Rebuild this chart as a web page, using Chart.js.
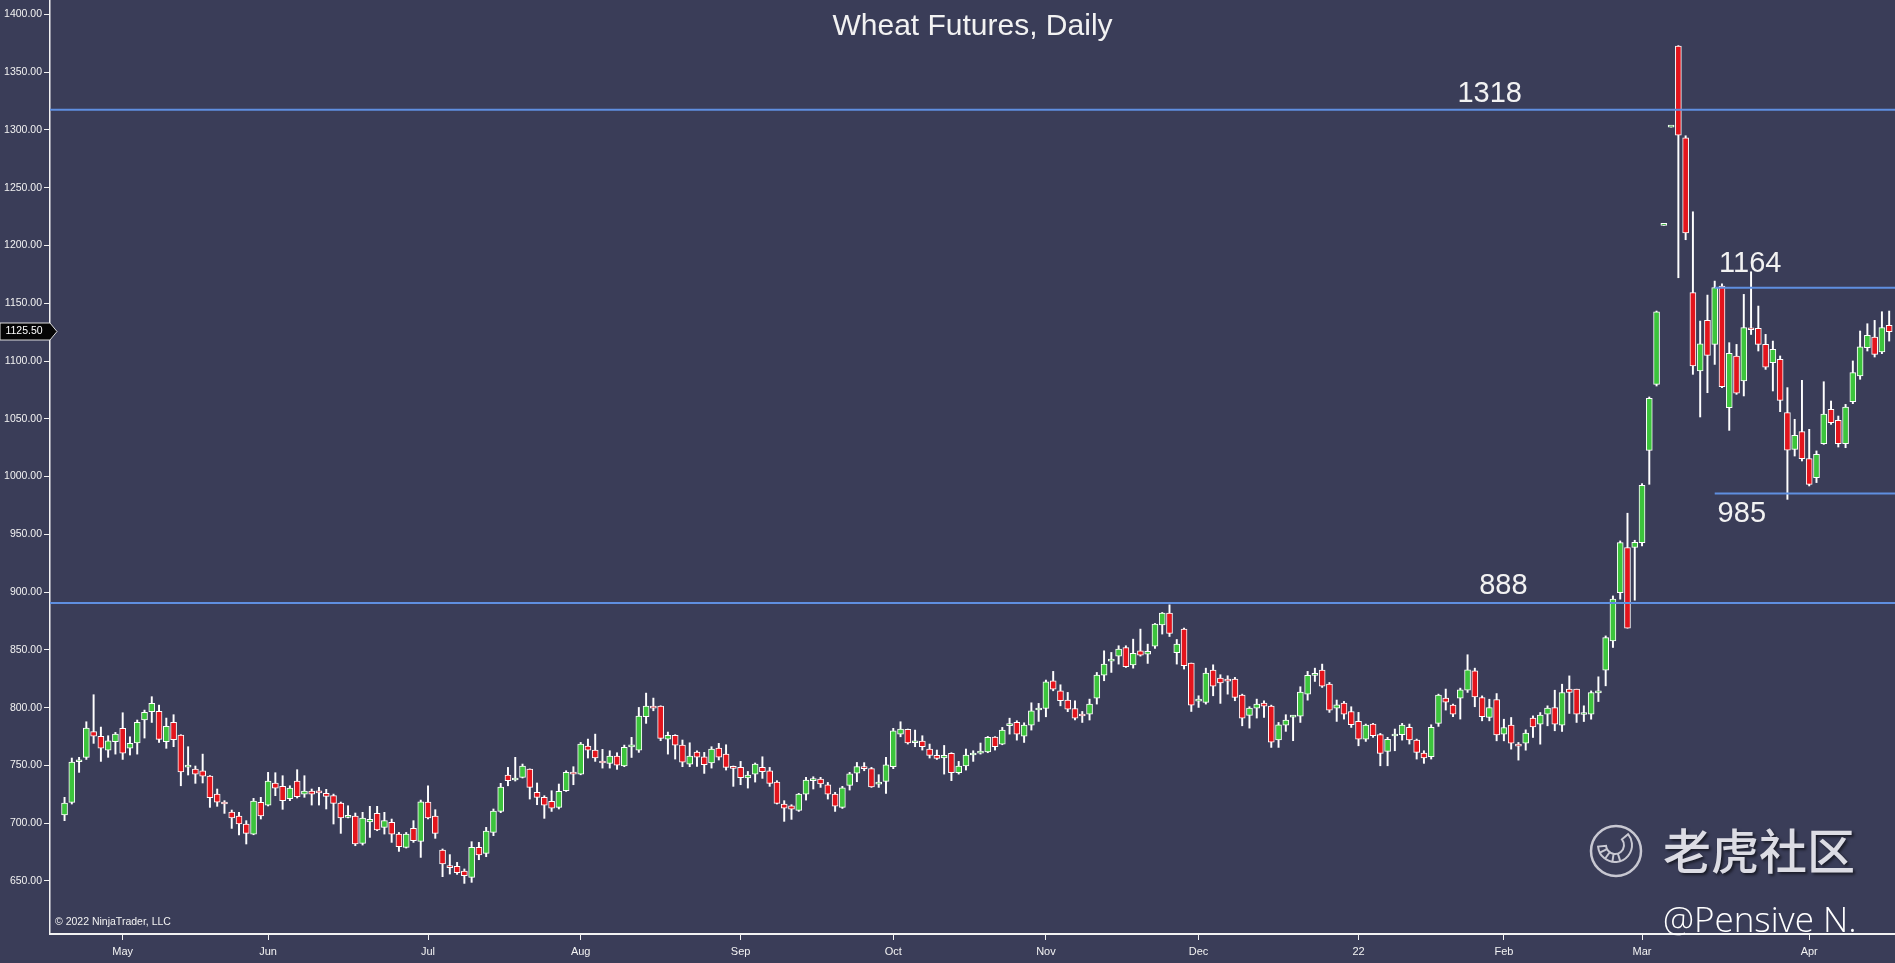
<!DOCTYPE html>
<html>
<head>
<meta charset="utf-8">
<title>Wheat Futures, Daily</title>
<script src="https://cdn.jsdelivr.net/npm/chart.js@4.4.0/dist/chart.umd.min.js"></script>
<style>
  html, body { margin: 0; padding: 0; background: #3a3d58; overflow: hidden; }
  #wrap { width: 1895px; height: 963px; }
</style>
</head>
<body>
<div id="wrap"><canvas id="chart" width="1895" height="963"></canvas></div>
<script>
// daily sessions, 21 Apr 2021 .. 18 Apr 2022, one entry per bar
const opens = [
  707.1, 718, 753.2, 757, 779.2, 775.1, 763.3, 770.5, 782.1, 765,
  769.4, 789.3, 796.5, 796.8, 770.5, 787.2, 776.3, 748.5, 746.9, 745.4,
  740.8, 725.2, 718.3, 709.7, 706.2, 699.3, 690.6, 718, 715.7, 734.8,
  731.9, 721.2, 736.5, 725.2, 727.8, 726.5, 725.8, 723.8, 717.5, 705,
  706.2, 682.6, 701, 708.5, 696.4, 700.7, 690.6, 679.1, 695.5, 684.3,
  718.3, 706.2, 676.8, 662, 662.7, 658.6, 653.1, 679.1, 673.9, 692.1,
  710.2, 741.7, 737.4, 739.7, 746.9, 726.7, 722.4, 718.9, 713.7, 728.1,
  743.7, 742.5, 766.8, 763.3, 753.5, 751.8, 758.1, 749.5, 766, 763.3,
  792.1, 801.1, 801.4, 772.8, 776, 767.6, 751.2, 761.6, 757.5, 752.1,
  765, 759.8, 747.7, 748.3, 739.1, 742.5, 748.3, 745.4, 735.6, 716.6,
  715.1, 711.1, 725.2, 736.8, 738.2, 733.3, 725.2, 713.7, 732.7, 743.4,
  748.9, 747.2, 733.8, 736.2, 748.9, 777.1, 781.2, 769.6, 771.1, 764.2,
  758.7, 756.4, 760.4, 743.7, 749.5, 759, 760.6, 761.6, 774.6, 768.5,
  784.4, 787.2, 775.4, 784.9, 798, 799.3, 823.3, 814.6, 806.5, 799.3,
  793.3, 794.4, 808.3, 828.2, 840.3, 844.6, 852.1, 837.1, 849.2, 846.4,
  853.3, 871.7, 881.8, 847.5, 868, 838.6, 805.6, 804.5, 832.5, 825.6,
  823.6, 824.7, 810.9, 793.3, 799.6, 804, 801.4, 772, 784.9, 791.8,
  792.7, 811.7, 827.9, 832.5, 820.4, 799.6, 804, 796.7, 788.1, 772.8,
  785.8, 776.6, 762.1, 775.5, 776.6, 782.9, 772, 760.7, 757.5, 786.4,
  808.3, 802.2, 808.3, 815.2, 831.9, 808.8, 791.5, 807, 777.1, 784.9,
  768.4, 769.3, 790.9, 785.7, 794.4, 800.1, 784.8, 816, 816, 794.1,
  794.4, 812.8, 832.4, 857.8, 899.6, 938.6, 938.6, 942.9, 1022.7, 1079.8,
  1217.4, 1302.5, 1372.6, 1293.3, 1159.2, 1091.4, 1135.2, 1114.5, 1164.9, 1059.7,
  1104.4, 1082.7, 1127.7, 1128.3, 1114.4, 1098.6, 1101.5, 1055.3, 1023.6, 1038.9,
  1015.6, 999.1, 1028.5, 1058.2, 1048.7, 1028.5, 1064.8, 1087.1, 1111.6, 1120.8,
  1107.8, 1130.9
];
const highs = [
  722.4, 756.4, 757, 787.8, 811.2, 783.2, 775.7, 778.6, 795.6, 774.8,
  789.3, 797.9, 809.5, 802.2, 791, 793.9, 776.6, 766.2, 749.5, 759.8,
  741.2, 729.6, 719.5, 711.4, 709.4, 702.2, 721.5, 722.4, 744, 743.7,
  741.1, 732.4, 746.3, 741.1, 729.6, 731, 729.3, 725.2, 718.3, 715.1,
  708.8, 709.4, 714.6, 714.6, 709.4, 703.6, 692, 692, 702.2, 720,
  732.4, 711.7, 677.7, 672.8, 666.1, 660.4, 684, 683.4, 696.4, 712.3,
  734.5, 748.3, 757, 751.2, 747, 734.8, 723.8, 728.1, 733.9, 745.4,
  748.9, 769.9, 772.8, 777.1, 763.9, 762.7, 761, 767.6, 774.3, 800.2,
  812.6, 808.3, 801.6, 778.9, 776.6, 772, 769.6, 762.7, 761.3, 766.2,
  769.1, 767.9, 749.5, 753.5, 744.8, 752.1, 757.5, 748.3, 736.8, 719.5,
  716, 725.8, 739.7, 740.2, 739.7, 735.3, 726.7, 731.9, 744, 752.6,
  752.4, 748.3, 742, 757, 782.1, 787.8, 781.5, 780.6, 775.7, 768.5,
  763.3, 767.3, 761, 753.5, 764.2, 762.7, 769.4, 775.1, 774.9, 782.9,
  790.9, 788.7, 786.9, 804.2, 803.7, 823.9, 831.4, 819.8, 813.2, 806,
  796.7, 807.4, 830.5, 849.2, 847.8, 853.6, 853.6, 859.3, 868, 855,
  872.9, 882.4, 889, 859, 868.9, 838.6, 810.3, 834.2, 837.1, 828.5,
  827.6, 826.2, 811.7, 800.8, 807.4, 806, 802.2, 787.2, 793.9, 793,
  818.1, 831.4, 834.2, 837.7, 821.8, 806.6, 805.4, 800.8, 795.9, 785.8,
  786.4, 777.7, 774.3, 781.5, 786.4, 785.8, 772.8, 762.7, 785.2, 811.7,
  816.1, 803.1, 816.9, 845.8, 834.2, 810.2, 807.3, 812.2, 790, 791.5,
  769.9, 780.8, 792.9, 795.8, 801.6, 815.1, 820.3, 827.5, 816, 801.6,
  814.5, 826.7, 862.1, 896.7, 944.3, 968.3, 944.9, 993.9, 1068.9, 1143.3,
  1217.4, 1302.5, 1373, 1295, 1229.2, 1134.6, 1157.1, 1169.2, 1166.9, 1115.9,
  1114.4, 1157.7, 1177.3, 1147.6, 1123.1, 1117.3, 1104.4, 1077, 1049.6, 1083.3,
  1040.9, 1022.2, 1082.1, 1065.4, 1052.4, 1062.5, 1100.1, 1126, 1132.3, 1135.2,
  1142.7, 1143.3
];
const lows = [
  702.2, 716.6, 744, 755.2, 769.1, 753.5, 757, 759.8, 755.2, 759,
  759.8, 773.7, 787.2, 769.9, 764.8, 766.2, 732.4, 741.7, 734.5, 734.8,
  713.7, 714.6, 708.5, 695.5, 689.8, 682, 690, 703.6, 714.9, 723.8,
  712, 719.5, 721.8, 722.4, 715.7, 715.7, 712.3, 699.3, 691.2, 704.6,
  680.5, 681.1, 687.7, 693.5, 690.6, 683.4, 675.6, 678.5, 683.4, 670.4,
  703.6, 686.9, 653.7, 656, 655.7, 647.9, 648.8, 668.4, 671, 689.2,
  709.1, 732.4, 736.5, 739.1, 720.9, 716, 704.2, 710.2, 712.3, 727.5,
  733.3, 741.9, 756.4, 753.5, 747.7, 747.7, 746.6, 748.9, 756.9, 761.3,
  786.4, 797.3, 771.4, 759.8, 755.5, 748.9, 748.9, 749.2, 743.1, 747.7,
  754.7, 746, 731.9, 733.3, 730.4, 735.6, 738.8, 731.9, 716.6, 701.6,
  703.3, 710.2, 720, 729.6, 731, 720.9, 710.2, 712.8, 728.7, 735.9,
  745.4, 731, 731, 725.8, 747.2, 774.8, 768.5, 766.2, 763.3, 756.4,
  755.2, 742.5, 736.8, 742.5, 746, 753.5, 759.8, 761, 763.3, 767.9,
  777.1, 771.9, 769.9, 780.6, 788.1, 792.1, 814.6, 801.6, 796.5, 789.3,
  787.2, 789.3, 803.1, 823.3, 830.5, 837.7, 834.8, 834.2, 844.6, 838.3,
  851.3, 863.7, 861.6, 837.7, 833.4, 796.7, 800.2, 803.1, 810.3, 803.7,
  811.7, 806, 784.3, 782.3, 791, 791.6, 765.6, 765.6, 779.5, 771.4,
  787.2, 806.5, 822.7, 817.5, 795.9, 788.1, 790.1, 782.9, 767, 770.8,
  774.3, 749.7, 749.7, 762.7, 771.9, 768.5, 755.5, 751.8, 755.5, 783.8,
  797.9, 792.1, 790.1, 813.2, 800.8, 788.6, 788.6, 771.3, 771.3, 764.1,
  754.6, 763.2, 774.2, 768.4, 784.3, 780, 779.4, 795, 787.2, 788,
  790, 805.3, 818.9, 852.1, 893.9, 868.8, 893, 940, 993.3, 1078.4,
  1217.4, 1302.5, 1172.1, 1205, 1088.5, 1051.6, 1072.6, 1097.1, 1076.9, 1040,
  1071.2, 1069.8, 1123, 1108.7, 1092.8, 1074.1, 1056.2, 980.3, 1017.8, 1013.5,
  991.9, 994.8, 1027.9, 1045.2, 1025.6, 1025, 1063.1, 1084.2, 1108.7, 1103.5,
  1106.4, 1117.3
];
const closes = [
  717.5, 752.9, 754.9, 782.3, 775.4, 765, 771.4, 777.2, 760.7, 769.1,
  787.2, 795.9, 803.7, 772.5, 783.8, 772.2, 744.3, 749.2, 742.5, 740.8,
  722.1, 718.3, 716.6, 704.5, 699.3, 691.2, 719.2, 706.2, 736.5, 730.4,
  719.5, 730.4, 722.9, 727.8, 725.2, 726.2, 723.2, 717.2, 704.5, 705.5,
  682, 704.5, 703.3, 694.1, 702.2, 690.6, 679.7, 690.6, 684.9, 718.6,
  704.5, 691.2, 664.7, 661.5, 657.2, 654.6, 679.1, 672.5, 693.2, 710.5,
  731.3, 736.8, 739.1, 749.5, 731, 722.4, 715.7, 713.1, 727.5, 744,
  742.5, 768.5, 763.3, 756.4, 752.1, 758.1, 750.3, 765.6, 766.5, 792.7,
  801.4, 799.6, 773.4, 776, 767.6, 752.9, 758.1, 757.2, 750.6, 764.2,
  757.2, 748.3, 747.4, 739.4, 741.7, 751.2, 744.6, 734.5, 717.2, 713.1,
  712.2, 725.2, 737.3, 738.2, 733.9, 725.2, 714.8, 730.7, 742.8, 748.9,
  747.2, 731.3, 734.3, 750.6, 780, 781.5, 769.4, 771.4, 766.2, 758.7,
  756.1, 758.7, 743.7, 749.5, 759, 760.7, 760.9, 774.3, 766.2, 780.6,
  784.8, 777.1, 784.9, 797.3, 798.5, 822.4, 816.1, 806, 798.8, 791,
  792.8, 803.1, 828.2, 837.7, 840.9, 850.7, 835.4, 847, 845.5, 848.7,
  872.3, 881.8, 864.2, 855, 836.3, 802.2, 806.2, 829.9, 818.7, 821.5,
  823, 808.9, 791, 799.6, 803.1, 801.4, 770.2, 785.2, 789.3, 792.4,
  813.5, 827.9, 828.5, 818.7, 797.9, 802.5, 794.4, 785.2, 772.8, 784.9,
  775.7, 760.4, 772.5, 776, 784.9, 772, 761.3, 756.4, 782.9, 810.9,
  804.8, 794.4, 815.5, 832.8, 809.4, 792.1, 800.1, 776.5, 782.8, 769.3,
  766.7, 777.9, 783.4, 793.5, 799.6, 785.7, 813.1, 813.1, 794.4, 794.7,
  813.1, 813.4, 860.7, 893.9, 942.9, 868.8, 943.2, 992.5, 1067.7, 1142.7,
  1217.4, 1302.5, 1295.6, 1210.8, 1095.7, 1115, 1104.9, 1163.5, 1077.8, 1106.7,
  1072.1, 1128.9, 1127.1, 1114.4, 1094.8, 1110.1, 1066, 1022.8, 1035.7, 1015.6,
  993.3, 1019.3, 1054, 1046.7, 1028.5, 1060.2, 1090, 1112.4, 1122.2, 1105.8,
  1128.9, 1125.5
];

// bar index of the first session of each month, and what the axis prints there
const monthStart = [8, 28, 50, 71, 93, 114, 135, 156, 178, 198, 217, 240];
const monthLabels = ['May', 'Jun', 'Jul', 'Aug', 'Sep', 'Oct', 'Nov', 'Dec', '22', 'Feb', 'Mar', 'Apr'];

const priceTicks = [650, 700, 750, 800, 850, 900, 950, 1000, 1050, 1100, 1150, 1200, 1250, 1300, 1350, 1400];

// hand drawn levels: where the line sits, what is written, first bar it covers
const levels = [1317.5, 1163.5, 985.3, 890.5];
const levelText = ['1318', '1164', '985', '888'];
const levelFrom = [-2, 227, 227, -2];

/* look */
const BG = '#3a3d58';
const UP = '#3cc43c';
const DOWN = '#e3141c';
const LEVEL = '#5f8fe0';
const AXIS = '#f2f2f2';
const TEXT = '#f2f2f2';
const FONT = 'Arial, "Liberation Sans", sans-serif';

const xMin = -2, xMax = 251.8;
const yMin = 604.1, yMax = 1412.5;

// where each level's number goes: bar position and pixel shift from the line
const notePlace = [
  { at: 191.6, dy: -15.5 },
  { at: 227.6, dy: -23.5 },
  { at: 227.4, dy: 20.5 },
  { at: 194.6, dy: -17.5 }
];

const bodies = opens.map((o, i) => ({ x: i, y: [o, closes[i]] }));
const wicks = lows.map((l, i) => ({ x: i, y: [l, highs[i]] }));
const bodyColors = opens.map((o, i) => closes[i] >= o ? UP : DOWN);

const levelSets = levels.map((v, k) => ({
  type: 'line',
  data: [{ x: levelFrom[k], y: v }, { x: xMax, y: v }],
  borderColor: LEVEL,
  borderWidth: 2,
  pointRadius: 0,
  fill: false,
  order: 0
}));

function drawTail(ctx, cx, cy) {
  ctx.save();
  ctx.strokeStyle = '#c8c8d2';
  ctx.lineWidth = 2.5;
  ctx.beginPath();
  ctx.arc(cx, cy, 25, 0, Math.PI * 2);
  ctx.stroke();
  // curled tail band
  ctx.lineWidth = 2;
  const tx = cx - 1, ty = cy - 6;
  ctx.beginPath();
  ctx.arc(tx, ty, 17, Math.PI * 0.97, Math.PI * 1.78, true);
  ctx.arc(tx, ty, 9, Math.PI * 1.78, Math.PI * 0.97, false);
  ctx.closePath();
  ctx.stroke();
  [0.85, 0.7, 0.55, 0.4].forEach(a => {
    const ang = Math.PI * a;
    ctx.beginPath();
    ctx.moveTo(tx + Math.cos(ang) * 9, ty + Math.sin(ang) * 9);
    ctx.lineTo(tx + Math.cos(ang) * 17, ty + Math.sin(ang) * 17);
    ctx.stroke();
  });
  ctx.restore();
}

const decor = {
  id: 'decor',
  beforeDraw(chart) {
    const ctx = chart.ctx;
    ctx.save();
    ctx.fillStyle = BG;
    ctx.fillRect(0, 0, chart.width, chart.height);
    ctx.restore();
  },
  afterDraw(chart) {
    const ctx = chart.ctx;
    const xs = chart.scales.x, ys = chart.scales.y;
    const area = chart.chartArea;
    ctx.save();
    ctx.fillStyle = TEXT;

    // title
    ctx.font = '30px ' + FONT;
    ctx.textAlign = 'center';
    ctx.textBaseline = 'middle';
    ctx.fillText('Wheat Futures, Daily', (area.left + area.right) / 2, 27);

    // level numbers
    ctx.font = '29px ' + FONT;
    ctx.textAlign = 'left';
    levels.forEach((v, k) => {
      const p = notePlace[k];
      ctx.fillText(levelText[k], xs.getPixelForValue(p.at), ys.getPixelForValue(v) + p.dy);
    });

    // copyright
    ctx.font = '10.5px ' + FONT;
    ctx.fillText('\u00a9 2022 NinjaTrader, LLC', area.left + 5, area.bottom - 12);

    // last price marker on the axis
    const last = closes[closes.length - 1];
    const py = Math.round(ys.getPixelForValue(last)) - 0.5;
    ctx.beginPath();
    ctx.moveTo(0, py - 8.5);
    ctx.lineTo(50, py - 8.5);
    ctx.lineTo(57, py);
    ctx.lineTo(50, py + 8.5);
    ctx.lineTo(0, py + 8.5);
    ctx.closePath();
    ctx.fillStyle = '#050505';
    ctx.fill();
    ctx.strokeStyle = '#dddddd';
    ctx.lineWidth = 1;
    ctx.stroke();
    ctx.fillStyle = '#ffffff';
    ctx.font = '10.5px ' + FONT;
    ctx.textAlign = 'center';
    ctx.fillText(last.toFixed(2), 24, py);

    // watermark
    drawTail(ctx, 1616, 851);
    ctx.save();
    ctx.shadowColor = 'rgba(0,0,0,0.55)';
    ctx.shadowOffsetX = 2;
    ctx.shadowOffsetY = 2;
    ctx.shadowBlur = 3;
    ctx.fillStyle = '#dcdce4';
    ctx.font = '500 48px "Noto Sans CJK SC", sans-serif';
    ctx.textAlign = 'left';
    ctx.textBaseline = 'middle';
    ctx.fillText('老虎社区', 1663, 851);
    ctx.restore();

    ctx.fillStyle = '#ffffff';
    ctx.font = '300 35px "Open Sans", sans-serif';
    ctx.textAlign = 'left';
    ctx.textBaseline = 'alphabetic';
    ctx.fillText('@Pensive N.', 1663, 932);

    ctx.restore();
  }
};

new Chart(document.getElementById('chart'), {
  type: 'bar',
  data: {
    datasets: [
      ...levelSets,
      {
        data: bodies,
        backgroundColor: bodyColors,
        borderColor: '#ffffff',
        borderWidth: 1,
        borderSkipped: false,
        barThickness: 6,
        minBarLength: 2,
        grouped: false,
        order: 1
      },
      {
        data: wicks,
        backgroundColor: '#ffffff',
        borderWidth: 0,
        barThickness: 1.3,
        grouped: false,
        order: 2
      }
    ]
  },
  options: {
    responsive: false,
    devicePixelRatio: 1,
    animation: false,
    events: [],
    layout: { padding: 0 },
    plugins: {
      legend: { display: false },
      tooltip: { enabled: false },
      title: { display: false }
    },
    scales: {
      x: {
        type: 'linear',
        min: xMin,
        max: xMax,
        offset: false,
        grid: { drawOnChartArea: false, drawTicks: true, tickLength: 6, color: AXIS, offset: false },
        border: { display: true, color: AXIS, width: 2 },
        afterBuildTicks: s => { s.ticks = monthStart.map(v => ({ value: v })); },
        afterFit: s => { s.height = 29; s.paddingLeft = 0; s.paddingRight = 0; },
        ticks: {
          autoSkip: false,
          maxRotation: 0,
          padding: 5,
          color: TEXT,
          font: { family: FONT, size: 11 },
          callback: v => monthLabels[monthStart.indexOf(v)]
        }
      },
      y: {
        type: 'linear',
        min: yMin,
        max: yMax,
        grid: { drawOnChartArea: false, drawTicks: true, tickLength: 6, color: AXIS },
        border: { display: true, color: AXIS, width: 1.5 },
        afterBuildTicks: s => { s.ticks = priceTicks.map(v => ({ value: v })); },
        afterFit: s => { s.width = 50; s.paddingTop = 0; s.paddingBottom = 0; },
        ticks: {
          padding: 2,
          color: TEXT,
          font: { family: FONT, size: 10.5 },
          callback: v => Number(v).toFixed(2)
        }
      }
    }
  },
  plugins: [decor]
});
</script>
</body>
</html>
